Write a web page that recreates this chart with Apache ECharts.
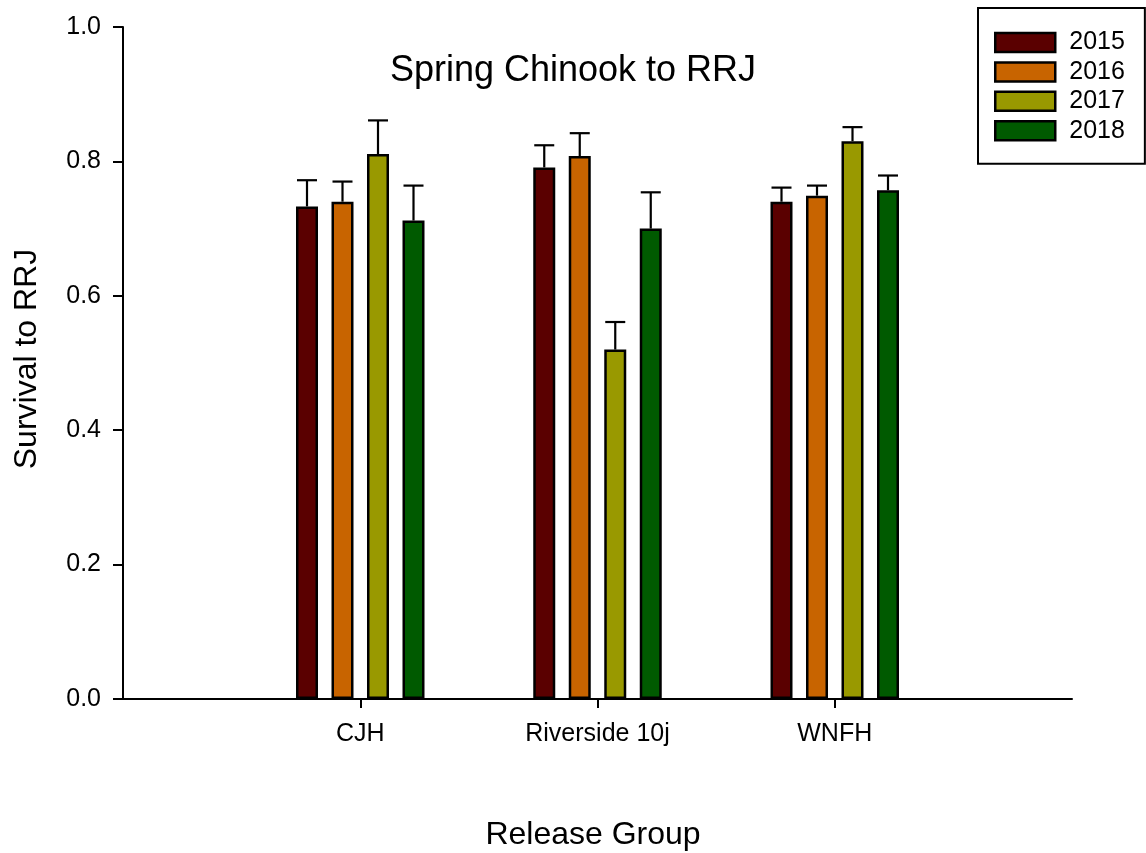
<!DOCTYPE html>
<html>
<head>
<meta charset="utf-8">
<script src="https://cdn.jsdelivr.net/npm/echarts@6/dist/echarts.min.js"></script>
<style>
  html, body { margin: 0; padding: 0; background: #fff; }
  #chart { width: 1146px; height: 853px; }
</style>
</head>
<body>
<div id="chart"></div>
<script>
// Release groups (padded with empty slots so the groups sit at 1/4, 2/4, 3/4 of the axis)
const categories = ['', 'CJH', 'Riverside 10j', 'WNFH', ''];
const years = ['2015', '2016', '2017', '2018'];
const yearColors = ['#5a0000', '#c86400', '#999900', '#005a00'];

// Mean survival to RRJ per release group, one array per year
const survival2015 = ['-', 0.733, 0.791, 0.740, '-'];
const survival2016 = ['-', 0.740, 0.808, 0.749, '-'];
const survival2017 = ['-', 0.811, 0.520, 0.830, '-'];
const survival2018 = ['-', 0.712, 0.700, 0.757, '-'];

// Upper end of the error bar (mean + SE)
const upper2015 = ['-', 0.772, 0.824, 0.761, '-'];
const upper2016 = ['-', 0.770, 0.842, 0.764, '-'];
const upper2017 = ['-', 0.861, 0.561, 0.851, '-'];
const upper2018 = ['-', 0.764, 0.754, 0.779, '-'];

const yTicks = [0.0, 0.2, 0.4, 0.6, 0.8, 1.0];

const means = [survival2015, survival2016, survival2017, survival2018];
const uppers = [upper2015, upper2016, upper2017, upper2018];

const BAR_W = 22;
const BAR_GAP = 13.5;
const FONT = '"Liberation Sans", Arial, sans-serif';

function errorSeries(k) {
  const groupW = years.length * BAR_W + (years.length - 1) * BAR_GAP;
  const offset = -groupW / 2 + BAR_W / 2 + k * (BAR_W + BAR_GAP);
  const data = [];
  for (let i = 0; i < categories.length; i++) {
    if (means[k][i] !== '-') data.push([i, means[k][i], uppers[k][i]]);
  }
  return {
    type: 'custom',
    name: years[k],
    z: 3,
    silent: true,
    data: data,
    encode: { x: 0, y: [1, 2] },
    renderItem: function (params, api) {
      const base = api.coord([api.value(0), api.value(1)]);
      const top = api.coord([api.value(0), api.value(2)]);
      const x = base[0] + offset;
      const capHalf = 10;
      const style = { stroke: '#000', lineWidth: 2.2 };
      return {
        type: 'group',
        children: [
          { type: 'line', shape: { x1: x, y1: base[1], x2: x, y2: top[1] }, style: style },
          { type: 'line', shape: { x1: x - capHalf, y1: top[1], x2: x + capHalf, y2: top[1] }, style: style }
        ]
      };
    }
  };
}

const barSeries = years.map(function (y, k) {
  return {
    type: 'bar',
    name: y,
    data: means[k],
    barWidth: BAR_W,
    barGap: (BAR_GAP / BAR_W * 100) + '%',
    z: 4,
    itemStyle: { color: yearColors[k], borderColor: '#000', borderWidth: 2.5 }
  };
});

const chart = echarts.init(document.getElementById('chart'), null, { renderer: 'canvas' });
chart.setOption({
  animation: false,
  backgroundColor: '#fff',
  legend: {
    data: years,
    orient: 'vertical',
    left: 978,
    top: 8,
    itemWidth: 60,
    itemHeight: 19,
    itemGap: 4.4,
    padding: [22, 20, 20.5, 16],
    borderColor: '#000',
    borderWidth: 2,
    icon: 'rect',
    itemStyle: { borderColor: '#000', borderWidth: 2.5 },
    textStyle: { fontFamily: FONT, fontSize: 25, color: '#000', padding: [0, 0, 0, 9] }
  },
  grid: { left: 123, right: 74, top: 27, bottom: 154, containLabel: false },
  xAxis: {
    type: 'category',
    data: categories,
    boundaryGap: false,
    axisLine: { lineStyle: { color: '#000', width: 2 } },
    axisTick: {
      length: 9,
      lineStyle: { color: '#000', width: 2 },
      interval: function (index) { return index >= 1 && index <= 3; }
    },
    axisLabel: {
      interval: 0,
      margin: 23,
      fontFamily: FONT, fontSize: 25, color: '#000'
    },
    splitLine: { show: false }
  },
  yAxis: {
    type: 'value',
    min: yTicks[0],
    max: yTicks[yTicks.length - 1],
    interval: 0.2,
    axisLine: { show: true, lineStyle: { color: '#000', width: 2 } },
    axisTick: { show: true, length: 10, lineStyle: { color: '#000', width: 2 } },
    axisLabel: {
      margin: 22,
      fontFamily: FONT, fontSize: 25, color: '#000',
      formatter: function (v) { return v.toFixed(1); }
    },
    splitLine: { show: false }
  },
  graphic: [
    {
      type: 'text',
      x: 573, y: 71,
      style: { text: 'Spring Chinook to RRJ', fontFamily: FONT, fontSize: 36, fill: '#000', align: 'center', verticalAlign: 'middle' }
    },
    {
      type: 'text',
      x: 27, y: 359,
      rotation: Math.PI / 2,
      style: { text: 'Survival to RRJ', fontFamily: FONT, fontSize: 32, fill: '#000', align: 'center', verticalAlign: 'middle' }
    },
    {
      type: 'text',
      x: 593, y: 835,
      style: { text: 'Release Group', fontFamily: FONT, fontSize: 32, fill: '#000', align: 'center', verticalAlign: 'middle' }
    }
  ],
  series: barSeries.concat(years.map(function (y, k) { return errorSeries(k); }))
});
</script>
</body>
</html>
